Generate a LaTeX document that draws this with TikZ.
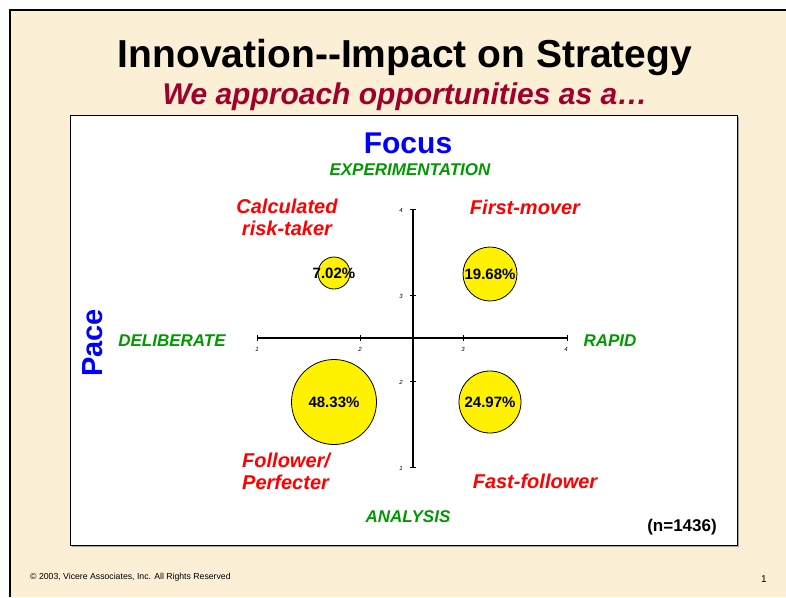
\documentclass[tikz,border=0pt]{standalone}
\usepackage{fontspec}
\setmainfont{Liberation Sans}
\usepackage{tikz}

\definecolor{paper}{HTML}{FBEFD6}
\definecolor{titlered}{HTML}{A0002A}
\definecolor{poleGreen}{HTML}{009A00}

\tikzset{
	bubble/.style={draw, line width=0.8pt, circle, inner sep=0pt, fill=yellow},
	share/.style={inner sep=0pt, font=\fontsize{15}{18}\selectfont\bfseries},
	quadrant/.style={text=red, inner sep=0pt, font=\fontsize{20}{22}\selectfont\bfseries\itshape},
	pole/.style={text=poleGreen, inner sep=0pt, font=\fontsize{17}{20}\selectfont\bfseries\itshape},
	ticklabel/.style={inner sep=0pt, font=\fontsize{6}{7}\selectfont\itshape},
	axis/.style={line width=1.8pt},
}

\begin{document}
\begin{tikzpicture}[x=1pt, y=-1pt]
	\useasboundingbox (0,0) rectangle (786,597);

	% slide
	\fill[white] (0,0) rectangle (786,597);
	\fill[paper] (10,10) rectangle (786,597);
	\draw[line width=1.6pt] (10,597) -- (10,10) -- (786,10);

	\node[anchor=base, inner sep=0pt, font=\fontsize{39}{44}\selectfont\bfseries] (title) at (405,67) {Innovation-{}-Impact on Strategy};
	\node[anchor=base, inner sep=0pt, text=titlered, font=\fontsize{30}{34}\selectfont\bfseries\itshape] (subtitle) at (405,104) {We approach opportunities as a\ldots};

	% chart panel
	\fill[gray!70] (72,117) rectangle (739,547);
	\draw[fill=white, line width=0.8pt] (70,115) rectangle (737,545);

	\node[anchor=base, inner sep=0pt, text=blue, font=\fontsize{30}{34}\selectfont\bfseries] (focus) at (408,153) {Focus};
	\node[pole, anchor=base] (experiment) at (410,175) {EXPERIMENTATION};
	\node[pole, anchor=base] (analysis) at (408,522) {ANALYSIS};
	\node[pole, anchor=base] (deliberate) at (172,346) {DELIBERATE};
	\node[pole, anchor=base] (rapid) at (610,346) {RAPID};
	\node[inner sep=0pt, text=blue, rotate=90, font=\fontsize{29}{34}\selectfont\bfseries] (pace) at (93,343) {Pace};

	% axes
	\coordinate (xmin) at (257,338);
	\coordinate (xmax) at (567,338);
	\coordinate (ymin) at (413,467);
	\coordinate (ymax) at (413,209);
	\draw[axis] (xmin) -- (xmax);
	\draw[axis] (ymin) -- (ymax);

	\draw[line width=1pt] (257,335) -- (257,341) (360,335) -- (360,341) (463,335) -- (463,341) (567,335) -- (567,341);
	\draw[line width=1pt] (410,467) -- (416,467) (410,381) -- (416,381) (410,295) -- (416,295) (410,209) -- (416,209);

	\node[ticklabel] (x1) at (257,349) {1};
	\node[ticklabel] (x2) at (360,349) {2};
	\node[ticklabel] (x3) at (463,349) {3};
	\node[ticklabel] (x4) at (566,349) {4};
	\node[ticklabel] (y1) at (401,468) {1};
	\node[ticklabel] (y2) at (401,382) {2};
	\node[ticklabel] (y3) at (401,296) {3};
	\node[ticklabel] (y4) at (401,210) {4};

	% bubbles
	\node[bubble, minimum size=32pt] (risk) at (334,273) {};
	\node[bubble, minimum size=54pt] (first) at (490,274) {};
	\node[bubble, minimum size=85pt] (follower) at (334,402) {};
	\node[bubble, minimum size=62pt] (fast) at (490,402) {};

	\node[share] (riskval) at (risk) {7.02\%};
	\node[share] (firstval) at (first) {19.68\%};
	\node[share] (followerval) at (follower) {48.33\%};
	\node[share] (fastval) at (fast) {24.97\%};

	\node[quadrant, align=center] (risklabel) at (287,217) {Calculated\\risk-taker};
	\node[quadrant, anchor=base] (firstlabel) at (525,214) {First-mover};
	\node[quadrant, align=left, anchor=west] (followerlabel) at (242,471) {Follower/\\Perfecter};
	\node[quadrant, anchor=base] (fastlabel) at (535,488) {Fast-follower};

	\node[anchor=base, inner sep=0pt, font=\fontsize{17}{20}\selectfont\bfseries] (sample) at (682,531) {(n=1436)};

	% footer
	\node[anchor=base west, inner sep=0pt, font=\fontsize{8.7}{11}\selectfont] (copyright) at (30,579) {\textcopyright{} 2003, Vicere Associates, Inc. All Rights Reserved};
	\node[anchor=base, inner sep=0pt, font=\fontsize{10}{12}\selectfont] (page) at (764,582) {1};
\end{tikzpicture}
\end{document}
